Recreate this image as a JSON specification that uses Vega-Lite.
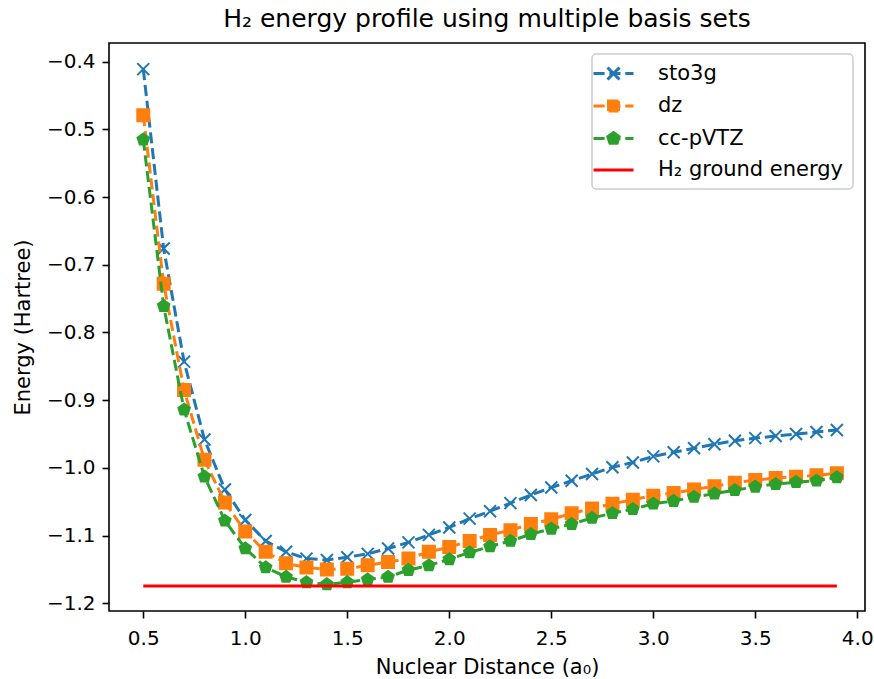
{
  "$schema": "https://vega.github.io/schema/vega-lite/v6.json",
  "autosize": "none",
  "width": 756,
  "height": 568,
  "padding": {"left": 109, "top": 43, "right": 9, "bottom": 68},
  "background": "white",
  "title": {"text": "H₂ energy profile using multiple basis sets", "anchor": "middle", "frame": "group", "offset": 11},
  "config": {
    "font": "DejaVu Sans",
    "view": {"stroke": "black", "strokeWidth": 1.6},
    "title": {"font": "DejaVu Sans", "fontSize": 25, "fontWeight": "normal", "color": "black"},
    "axis": {
      "domain": false, "grid": false,
      "labelFont": "DejaVu Sans", "labelFontSize": 20, "labelColor": "black",
      "titleFont": "DejaVu Sans", "titleFontSize": 21, "titleFontWeight": "normal", "titleColor": "black",
      "tickColor": "black", "tickWidth": 1.6, "tickSize": 7, "labelPadding": 7
    }
  },
  "datasets": {
    "sto3g": [
      {"d": 0.5, "e": -0.411}, {"d": 0.6, "e": -0.676}, {"d": 0.7, "e": -0.843}, {"d": 0.8, "e": -0.958},
      {"d": 0.9, "e": -1.032}, {"d": 1.0, "e": -1.077}, {"d": 1.1, "e": -1.108}, {"d": 1.2, "e": -1.124},
      {"d": 1.3, "e": -1.134}, {"d": 1.4, "e": -1.136}, {"d": 1.5, "e": -1.132}, {"d": 1.6, "e": -1.127},
      {"d": 1.7, "e": -1.119}, {"d": 1.8, "e": -1.110}, {"d": 1.9, "e": -1.099}, {"d": 2.0, "e": -1.088},
      {"d": 2.1, "e": -1.075}, {"d": 2.2, "e": -1.064}, {"d": 2.3, "e": -1.052}, {"d": 2.4, "e": -1.040},
      {"d": 2.5, "e": -1.029}, {"d": 2.6, "e": -1.019}, {"d": 2.7, "e": -1.009}, {"d": 2.8, "e": -0.999},
      {"d": 2.9, "e": -0.992}, {"d": 3.0, "e": -0.983}, {"d": 3.1, "e": -0.977}, {"d": 3.2, "e": -0.971},
      {"d": 3.3, "e": -0.965}, {"d": 3.4, "e": -0.960}, {"d": 3.5, "e": -0.956}, {"d": 3.6, "e": -0.953},
      {"d": 3.7, "e": -0.950}, {"d": 3.8, "e": -0.947}, {"d": 3.9, "e": -0.944}
    ],
    "dz": [
      {"d": 0.5, "e": -0.479}, {"d": 0.6, "e": -0.728}, {"d": 0.7, "e": -0.885}, {"d": 0.8, "e": -0.988},
      {"d": 0.9, "e": -1.051}, {"d": 1.0, "e": -1.094}, {"d": 1.1, "e": -1.124}, {"d": 1.2, "e": -1.141},
      {"d": 1.3, "e": -1.147}, {"d": 1.4, "e": -1.150}, {"d": 1.5, "e": -1.149}, {"d": 1.6, "e": -1.144},
      {"d": 1.7, "e": -1.139}, {"d": 1.8, "e": -1.134}, {"d": 1.9, "e": -1.124}, {"d": 2.0, "e": -1.117},
      {"d": 2.1, "e": -1.108}, {"d": 2.2, "e": -1.099}, {"d": 2.3, "e": -1.092}, {"d": 2.4, "e": -1.083},
      {"d": 2.5, "e": -1.076}, {"d": 2.6, "e": -1.067}, {"d": 2.7, "e": -1.060}, {"d": 2.8, "e": -1.053},
      {"d": 2.9, "e": -1.047}, {"d": 3.0, "e": -1.041}, {"d": 3.1, "e": -1.037}, {"d": 3.2, "e": -1.032},
      {"d": 3.3, "e": -1.027}, {"d": 3.4, "e": -1.022}, {"d": 3.5, "e": -1.018}, {"d": 3.6, "e": -1.015},
      {"d": 3.7, "e": -1.013}, {"d": 3.8, "e": -1.011}, {"d": 3.9, "e": -1.008}
    ],
    "cc": [
      {"d": 0.5, "e": -0.515}, {"d": 0.6, "e": -0.761}, {"d": 0.7, "e": -0.914}, {"d": 0.8, "e": -1.013},
      {"d": 0.9, "e": -1.078}, {"d": 1.0, "e": -1.119}, {"d": 1.1, "e": -1.147}, {"d": 1.2, "e": -1.161},
      {"d": 1.3, "e": -1.169}, {"d": 1.4, "e": -1.172}, {"d": 1.5, "e": -1.169}, {"d": 1.6, "e": -1.165},
      {"d": 1.7, "e": -1.161}, {"d": 1.8, "e": -1.151}, {"d": 1.9, "e": -1.144}, {"d": 2.0, "e": -1.135},
      {"d": 2.1, "e": -1.125}, {"d": 2.2, "e": -1.116}, {"d": 2.3, "e": -1.108}, {"d": 2.4, "e": -1.098},
      {"d": 2.5, "e": -1.090}, {"d": 2.6, "e": -1.083}, {"d": 2.7, "e": -1.074}, {"d": 2.8, "e": -1.067},
      {"d": 2.9, "e": -1.061}, {"d": 3.0, "e": -1.053}, {"d": 3.1, "e": -1.049}, {"d": 3.2, "e": -1.043},
      {"d": 3.3, "e": -1.038}, {"d": 3.4, "e": -1.033}, {"d": 3.5, "e": -1.028}, {"d": 3.6, "e": -1.024},
      {"d": 3.7, "e": -1.021}, {"d": 3.8, "e": -1.019}, {"d": 3.9, "e": -1.014}
    ],
    "ground": [
      {"d": 0.5, "e": -1.1744}, {"d": 3.9, "e": -1.1744}
    ]
  },
  "encoding": {
    "x": {"field": "d", "type": "quantitative",
      "scale": {"domain": [0.332, 4.038], "nice": false, "zero": false},
      "axis": {"title": "Nuclear Distance (a₀)", "values": [0.5, 1.0, 1.5, 2.0, 2.5, 3.0, 3.5, 4.0], "format": ".1f", "labelPadding": 10, "titlePadding": 8}},
    "y": {"field": "e", "type": "quantitative",
      "scale": {"domain": [-1.2114, -0.3724], "nice": false, "zero": false},
      "axis": {"title": "Energy (Hartree)", "values": [-1.2, -1.1, -1.0, -0.9, -0.8, -0.7, -0.6, -0.5, -0.4], "format": ".1f", "titlePadding": 13}}
  },
  "layer": [
    {
      "data": {"name": "sto3g"},
      "mark": {"type": "line", "strokeWidth": 3, "strokeDash": [11.1, 4.8]},
      "encoding": {
        "color": {"datum": "sto3g", "type": "nominal",
          "scale": {"domain": ["sto3g", "dz", "cc-pVTZ", "H₂ ground energy"], "range": ["#1f77b4", "#ff7f0e", "#2ca02c", "#ff0000"]},
          "legend": {
            "orient": "none", "legendX": 483, "legendY": 11, "title": null,
            "padding": 9, "fillColor": "white", "strokeColor": "#cccccc", "cornerRadius": 4,
            "labelFont": "DejaVu Sans", "labelFontSize": 21, "labelColor": "black", "labelLimit": 400,
            "symbolSize": 100, "symbolStrokeWidth": 3, "symbolOffset": 2, "labelOffset": 34, "rowPadding": 8.5,
            "encode": {
              "legend": {"update": {"strokeWidth": {"value": 1.5}}},
              "symbols": {"update": {
              "shape": {"signal": "datum.value === 'sto3g' ? 'M-4,0L-1.78,0M-0.82,0L1.4,0M2.36,0L4,0M-1.2,-1.2L1.2,1.2M-1.2,1.2L1.2,-1.2' : datum.value === 'dz' ? 'M-4,0L-1.78,0M-0.82,0L1.4,0M2.36,0L4,0M-1,-1L1,-1L1,1L-1,1Z' : datum.value === 'cc-pVTZ' ? 'M-4,0L-1.78,0M-0.82,0L1.4,0M2.36,0L4,0M0,-1.2L1.14,-0.37L0.71,0.97L-0.71,0.97L-1.14,-0.37Z' : 'M-4,0L4,0'"},
              "fill": {"signal": "datum.value === 'dz' ? '#ff7f0e' : datum.value === 'cc-pVTZ' ? '#2ca02c' : 'transparent'"},
              "stroke": {"signal": "datum.value === 'sto3g' ? '#1f77b4' : datum.value === 'dz' ? '#ff7f0e' : datum.value === 'cc-pVTZ' ? '#2ca02c' : '#ff0000'"},
              "strokeDash": {"value": [1, 0]},
              "opacity": {"value": 1}
            }}}
          }}
      }
    },
    {
      "data": {"name": "sto3g"},
      "mark": {"type": "point", "shape": "M-1,-1L1,1M-1,1L1,-1", "filled": false, "stroke": "#1f77b4", "strokeWidth": 2, "size": 144, "opacity": 1}
    },
    {
      "data": {"name": "dz"},
      "mark": {"type": "line", "strokeWidth": 3, "strokeDash": [11.1, 4.8]},
      "encoding": {"color": {"datum": "dz", "type": "nominal"}}
    },
    {
      "data": {"name": "dz"},
      "mark": {"type": "point", "shape": "square", "filled": true, "fill": "#ff7f0e", "stroke": "#ff7f0e", "strokeWidth": 2, "size": 144, "opacity": 1}
    },
    {
      "data": {"name": "cc"},
      "mark": {"type": "line", "strokeWidth": 3, "strokeDash": [11.1, 4.8]},
      "encoding": {"color": {"datum": "cc-pVTZ", "type": "nominal"}}
    },
    {
      "data": {"name": "cc"},
      "mark": {"type": "point", "shape": "M0,-1L0.951,-0.309L0.588,0.809L-0.588,0.809L-0.951,-0.309Z", "filled": true, "fill": "#2ca02c", "stroke": "#2ca02c", "strokeWidth": 2, "size": 144, "opacity": 1}
    },
    {
      "data": {"name": "ground"},
      "mark": {"type": "line", "strokeWidth": 3},
      "encoding": {"color": {"datum": "H₂ ground energy", "type": "nominal"}}
    }
  ]
}
